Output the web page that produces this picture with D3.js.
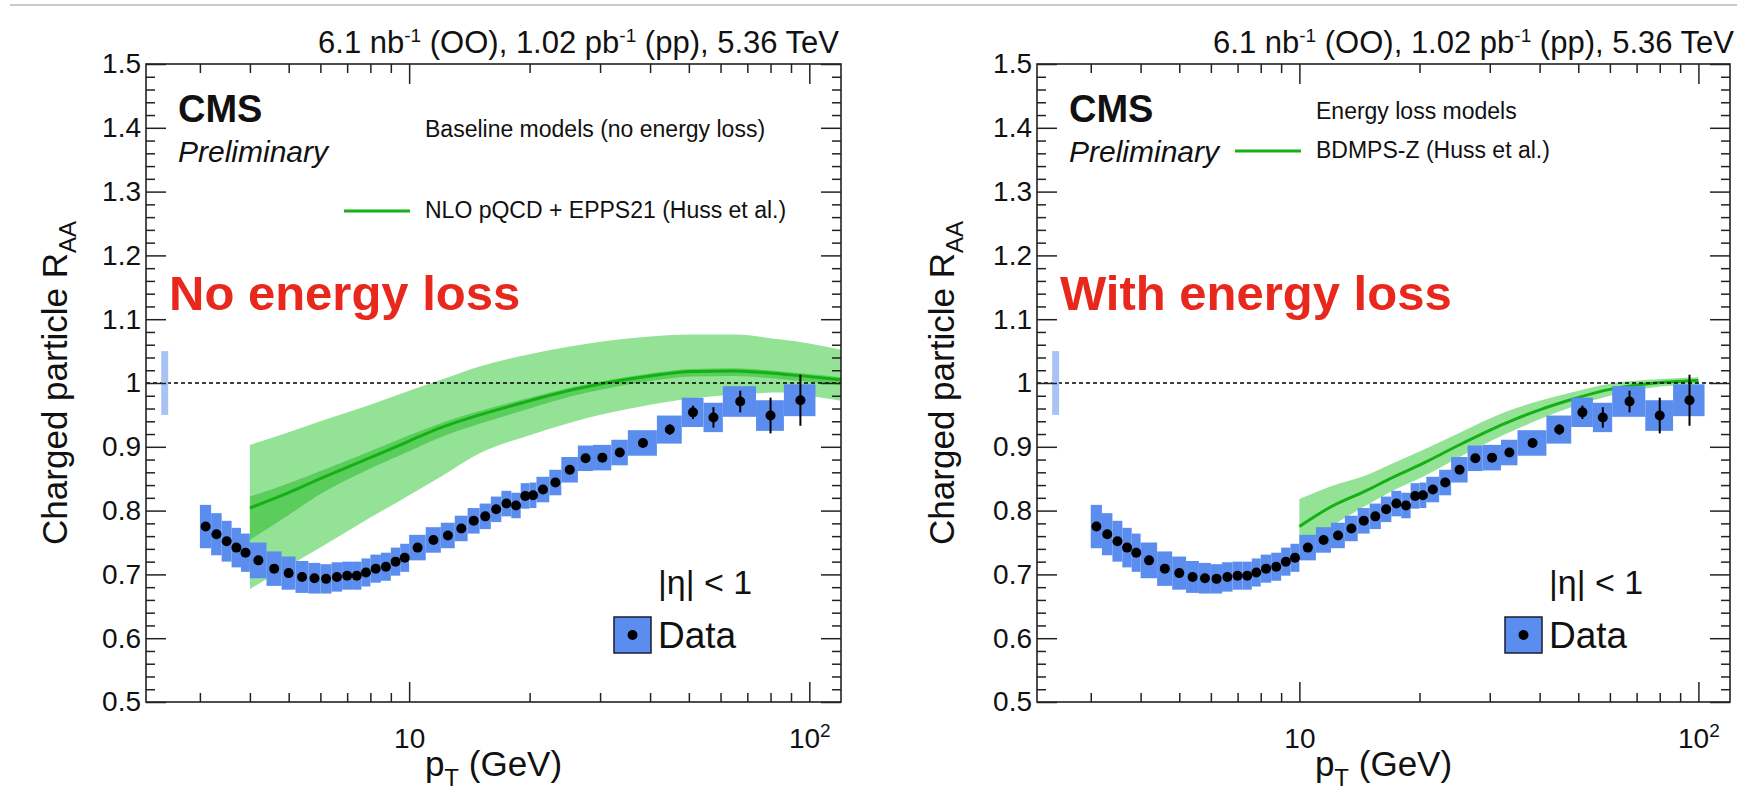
<!DOCTYPE html>
<html>
<head>
<meta charset="utf-8">
<script src="https://cdn.jsdelivr.net/npm/d3@7"></script>
<style>
  html, body { margin: 0; padding: 0; background: #fff; }
  svg text { font-family: "Liberation Sans", Arial, Helvetica, sans-serif; fill: #111; }
</style>
</head>
<body>
<svg id="chart" width="1737" height="797"></svg>
<script>
// ---- Charged-particle R_AA in OO collisions, |eta| < 1 ----
// pT bin edges (GeV)
const ptLow  = [3.0,3.2,3.4,3.6,3.8,4.0,4.4,4.8,5.2,5.6,6.0,6.4,6.8,7.2,7.6,8.0,8.5,9.0,9.5,10,
                11,12,13,14,15,16,17,18,19,20,20.8,22.4,24,26.4,28.8,32,35.2,41.6,48,54.4,60.8,73.6,86.4];
const ptHigh = [3.2,3.4,3.6,3.8,4.0,4.4,4.8,5.2,5.6,6.0,6.4,6.8,7.2,7.6,8.0,8.5,9.0,9.5,10,11,
                12,13,14,15,16,17,18,19,20,20.8,22.4,24,26.4,28.8,32,35.2,41.6,48,54.4,60.8,73.6,86.4,103.6];
// measured R_AA
const raa = [0.775,0.763,0.752,0.742,0.734,0.722,0.709,0.702,0.696,0.694,0.693,0.696,0.698,0.698,0.703,
             0.709,0.712,0.720,0.726,0.742,0.754,0.761,0.772,0.784,0.791,0.802,0.811,0.808,0.823,0.824,
             0.833,0.844,0.864,0.882,0.883,0.891,0.906,0.927,0.954,0.946,0.971,0.949,0.973];
// statistical uncertainty
const statErr = [0.003,0.003,0.003,0.003,0.003,0.003,0.003,0.003,0.003,0.003,0.003,0.003,0.003,0.003,0.003,
                 0.003,0.003,0.003,0.003,0.003,0.003,0.003,0.003,0.003,0.003,0.003,0.003,0.003,0.003,0.003,
                 0.004,0.004,0.005,0.005,0.005,0.006,0.006,0.008,0.0105,0.016,0.017,0.028,0.040];
// systematic uncertainty
const sysErr = [0.034,0.033,0.032,0.031,0.030,0.028,0.027,0.026,0.025,0.024,0.023,0.023,0.022,0.022,0.022,
                0.022,0.022,0.022,0.022,0.020,0.020,0.020,0.020,0.020,0.020,0.020,0.020,0.020,0.020,0.020,
                0.020,0.020,0.020,0.020,0.020,0.020,0.020,0.022,0.023,0.023,0.024,0.024,0.025];
// global normalisation uncertainty (box at unity)
const globalUnc = 0.05;
const globalUncPt = 2.45;

// NLO pQCD + EPPS21 (Huss et al.)
const nloPt        = [4,5,6,8,10,12,15,20,25,31,40,51,65,85,100,120];
const nloCentral   = [0.804,0.828,0.850,0.883,0.909,0.930,0.950,0.972,0.988,1.000,1.011,1.018,1.019,1.014,1.010,1.005];
const nloOuterLow  = [0.677,0.713,0.742,0.789,0.824,0.853,0.890,0.918,0.937,0.952,0.966,0.976,0.982,0.985,0.980,0.972];
const nloOuterHigh = [0.903,0.923,0.940,0.966,0.988,1.005,1.026,1.045,1.057,1.066,1.073,1.076,1.076,1.068,1.062,1.052];
const nloInnerLow  = [0.754,0.793,0.826,0.866,0.893,0.915,0.936,0.960,0.978,0.991,1.003,1.010,1.011,1.006,1.002,0.997];
const nloInnerHigh = [0.822,0.843,0.862,0.893,0.918,0.937,0.956,0.977,0.992,1.004,1.015,1.022,1.023,1.018,1.014,1.009];

// BDMPS-Z (Huss et al.)
const bdmpsPt      = [10,12,14.8,17,20.4,25,32.9,40,48.6,60,75,100];
const bdmpsCentral = [0.775,0.806,0.832,0.851,0.874,0.902,0.937,0.958,0.975,0.990,0.999,1.004];
const bdmpsLow     = [0.733,0.774,0.809,0.830,0.853,0.883,0.920,0.943,0.963,0.980,0.992,0.998];
const bdmpsHigh    = [0.818,0.838,0.856,0.873,0.895,0.921,0.955,0.972,0.986,0.999,1.005,1.009];

// axis ticks
const xMajor = [10, 100];
const xMajorLabels = ["10", "10^2"];
const xMinor = [3,4,5,6,7,8,9,20,30,40,50,60,70,80,90];
const yMajor = [0.5,0.6,0.7,0.8,0.9,1.0,1.1,1.2,1.3,1.4,1.5];
const yMajorLabels = ["0.5","0.6","0.7","0.8","0.9","1","1.1","1.2","1.3","1.4","1.5"];
const yMinor = [0.52,0.54,0.56,0.58,0.62,0.64,0.66,0.68,0.72,0.74,0.76,0.78,0.82,0.84,0.86,0.88,
                0.92,0.94,0.96,0.98,1.02,1.04,1.06,1.08,1.12,1.14,1.16,1.18,1.22,1.24,1.26,1.28,
                1.32,1.34,1.36,1.38,1.42,1.44,1.46,1.48];

const COLORS = {
  sys: "#5b8def",
  global: "#a9c3f5",
  bandOuter: "#94e296",
  bandInner: "#5acd5c",
  model: "#14b014",
  red: "#e8281c",
  axis: "#222"
};

const svg = d3.select("#chart");

// thin grey rule along the top edge
svg.append("line").attr("x1", 10).attr("x2", 1737).attr("y1", 5).attr("y2", 5)
  .attr("stroke", "#c9c9c9").attr("stroke-width", 2);

const dataRows = raa.map((v, i) => ({
  lo: ptLow[i], hi: ptHigh[i], pt: (ptLow[i] + ptHigh[i]) / 2, v, stat: statErr[i], sys: sysErr[i]
}));

function rich(sel, parts) {
  parts.forEach(p => {
    const t = sel.append("tspan").text(p.t);
    if (p.sup) t.attr("font-size", p.size).attr("dy", -p.shift);
    if (p.sub) t.attr("font-size", p.size).attr("dy", p.shift);
    if (p.back) t.attr("dy", p.back);
  });
}

function drawPanel(cfg) {
  const T = 64, B = 702, L = cfg.L, R = cfg.R;
  const x = d3.scaleLog().domain([2.2, 120]).range([L, R]);
  const y = d3.scaleLinear().domain([0.5, 1.5]).range([B, T]);
  const g = svg.append("g");

  const clipId = "clip" + cfg.id;
  svg.append("clipPath").attr("id", clipId)
    .append("rect").attr("x", L).attr("y", T).attr("width", R - L).attr("height", B - T);
  const plot = g.append("g").attr("clip-path", `url(#${clipId})`);

  // model bands
  const area = (pts, lo, hi) => d3.area()
    .x((d, i) => x(pts[i])).y0((d, i) => y(lo[i])).y1((d, i) => y(hi[i]))
    .curve(d3.curveMonotoneX)(pts);
  const line = (pts, c) => d3.line()
    .x((d, i) => x(pts[i])).y((d, i) => y(c[i]))
    .curve(d3.curveMonotoneX)(pts);

  cfg.models.forEach(m => {
    plot.append("path").attr("d", area(m.pt, m.low, m.high)).attr("fill", COLORS.bandOuter);
    if (m.innerLow) {
      plot.append("path").attr("d", area(m.pt, m.innerLow, m.innerHigh)).attr("fill", COLORS.bandInner);
    }
    plot.append("path").attr("d", line(m.pt, m.central))
      .attr("fill", "none").attr("stroke", COLORS.model).attr("stroke-width", 3);
  });

  // unity reference
  plot.append("line").attr("x1", L).attr("x2", R).attr("y1", y(1)).attr("y2", y(1))
    .attr("stroke", "#000").attr("stroke-width", 1.3).attr("stroke-dasharray", "4,3");

  // global normalisation box
  plot.append("rect")
    .attr("x", x(globalUncPt) - 3.5).attr("width", 7)
    .attr("y", y(1 + globalUnc)).attr("height", y(1 - globalUnc) - y(1 + globalUnc))
    .attr("fill", COLORS.global);

  // systematic boxes
  plot.selectAll("rect.sys").data(dataRows).join("rect").attr("class", "sys")
    .attr("x", d => x(d.lo)).attr("width", d => x(d.hi) - x(d.lo))
    .attr("y", d => y(d.v + d.sys)).attr("height", d => y(d.v - d.sys) - y(d.v + d.sys))
    .attr("fill", COLORS.sys);

  // statistical bars
  plot.selectAll("line.stat").data(dataRows).join("line").attr("class", "stat")
    .attr("x1", d => x(d.pt)).attr("x2", d => x(d.pt))
    .attr("y1", d => y(d.v + d.stat)).attr("y2", d => y(d.v - d.stat))
    .attr("stroke", "#000").attr("stroke-width", 2);

  // markers
  plot.selectAll("circle.pt").data(dataRows).join("circle").attr("class", "pt")
    .attr("cx", d => x(d.pt)).attr("cy", d => y(d.v)).attr("r", 5).attr("fill", "#000");

  // axes (ticks pointing inwards)
  const styleAxis = s => {
    s.select(".domain").remove();
    s.selectAll(".tick line").attr("stroke", COLORS.axis).attr("stroke-width", 1.5);
  };
  g.append("g").attr("transform", `translate(0,${B})`)
    .call(d3.axisBottom(x).tickValues(xMinor).tickSize(-9).tickFormat("")).call(styleAxis);
  const xb = g.append("g").attr("transform", `translate(0,${B})`)
    .call(d3.axisBottom(x).tickValues(xMajor).tickSize(-20).tickPadding(26)
      .tickFormat((d, i) => xMajorLabels[i])).call(styleAxis);
  xb.selectAll(".tick text").attr("font-size", 28).attr("font-family", null).attr("fill", "#111")
    .each(function () {
      const t = d3.select(this);
      const parts = t.text().split("^");
      if (parts.length === 2) {
        t.text(parts[0]);
        t.append("tspan").text(parts[1]).attr("font-size", 19).attr("dy", "-0.55em");
      }
    });
  g.append("g").attr("transform", `translate(0,${T})`)
    .call(d3.axisTop(x).tickValues(xMinor).tickSize(-9).tickFormat("")).call(styleAxis);
  g.append("g").attr("transform", `translate(0,${T})`)
    .call(d3.axisTop(x).tickValues(xMajor).tickSize(-20).tickFormat("")).call(styleAxis);

  g.append("g").attr("transform", `translate(${L},0)`)
    .call(d3.axisLeft(y).tickValues(yMinor).tickSize(-9).tickFormat("")).call(styleAxis);
  const yl = g.append("g").attr("transform", `translate(${L},0)`)
    .call(d3.axisLeft(y).tickValues(yMajor).tickSize(-20).tickPadding(5)
      .tickFormat((d, i) => yMajorLabels[i])).call(styleAxis);
  yl.selectAll(".tick text").attr("font-size", 28).attr("font-family", null).attr("fill", "#111");
  g.append("g").attr("transform", `translate(${R},0)`)
    .call(d3.axisRight(y).tickValues(yMinor).tickSize(-9).tickFormat("")).call(styleAxis);
  g.append("g").attr("transform", `translate(${R},0)`)
    .call(d3.axisRight(y).tickValues(yMajor).tickSize(-20).tickFormat("")).call(styleAxis);

  // frame
  g.append("rect").attr("x", L).attr("y", T).attr("width", R - L).attr("height", B - T)
    .attr("fill", "none").attr("stroke", COLORS.axis).attr("stroke-width", 1.6);

  // luminosity / energy title
  const title = g.append("text").attr("x", cfg.titleRight).attr("y", 53)
    .attr("text-anchor", "end").attr("font-size", 31);
  rich(title, [
    {t: "6.1 nb"}, {t: "-1", sup: true, size: 19, shift: 11}, {t: " (OO), 1.02 pb", back: 11},
    {t: "-1", sup: true, size: 19, shift: 11}, {t: " (pp), 5.36 TeV", back: 11}
  ]);

  // axis titles
  const xt = g.append("text").attr("x", (L + R) / 2).attr("y", 776)
    .attr("text-anchor", "middle").attr("font-size", 35);
  rich(xt, [{t: "p"}, {t: "T", sub: true, size: 24, shift: 10}, {t: " (GeV)", back: -10}]);

  const yt = g.append("text").attr("transform", `translate(${cfg.yTitleX},${(T + B) / 2}) rotate(-90)`)
    .attr("text-anchor", "middle").attr("font-size", 35);
  rich(yt, [{t: "Charged particle R"}, {t: "AA", sub: true, size: 24, shift: 9}]);

  // CMS label
  g.append("text").attr("x", L + 32).attr("y", 122).attr("font-size", 38).attr("font-weight", "bold").text("CMS");
  g.append("text").attr("x", L + 32).attr("y", 162).attr("font-size", 30).attr("font-style", "italic").text("Preliminary");

  // model legend
  g.append("text").attr("x", L + 279).attr("y", cfg.legHeadY).attr("font-size", 23).text(cfg.legHead);
  g.append("line").attr("x1", L + 198).attr("x2", L + 264).attr("y1", cfg.legLineY).attr("y2", cfg.legLineY)
    .attr("stroke", COLORS.model).attr("stroke-width", 3);
  g.append("text").attr("x", L + 279).attr("y", cfg.legLineY + 7).attr("font-size", 23).text(cfg.legEntry);

  // big annotation
  g.append("text").attr("x", L + 23).attr("y", 310).attr("font-size", 49).attr("font-weight", "bold")
    .style("fill", COLORS.red).text(cfg.banner);

  // acceptance + data legend
  g.append("text").attr("x", L + 512).attr("y", 594).attr("font-size", 34).text("|η| < 1");
  g.append("rect").attr("x", L + 468).attr("y", 617).attr("width", 37).attr("height", 36)
    .attr("fill", COLORS.sys).attr("stroke", "#1b1b33").attr("stroke-width", 1.5);
  g.append("circle").attr("cx", L + 486.5).attr("cy", 635).attr("r", 5).attr("fill", "#000");
  g.append("text").attr("x", L + 512).attr("y", 648).attr("font-size", 37).text("Data");
}

drawPanel({
  id: "a", L: 146, R: 841, titleRight: 839, yTitleX: 67,
  legHead: "Baseline models (no energy loss)", legHeadY: 137,
  legEntry: "NLO pQCD + EPPS21 (Huss et al.)", legLineY: 211,
  banner: "No energy loss",
  models: [{pt: nloPt, central: nloCentral, low: nloOuterLow, high: nloOuterHigh,
            innerLow: nloInnerLow, innerHigh: nloInnerHigh}]
});

drawPanel({
  id: "b", L: 1037, R: 1730, titleRight: 1734, yTitleX: 954,
  legHead: "Energy loss models", legHeadY: 119,
  legEntry: "BDMPS-Z (Huss et al.)", legLineY: 151,
  banner: "With energy loss",
  models: [{pt: bdmpsPt, central: bdmpsCentral, low: bdmpsLow, high: bdmpsHigh}]
});
</script>
</body>
</html>
